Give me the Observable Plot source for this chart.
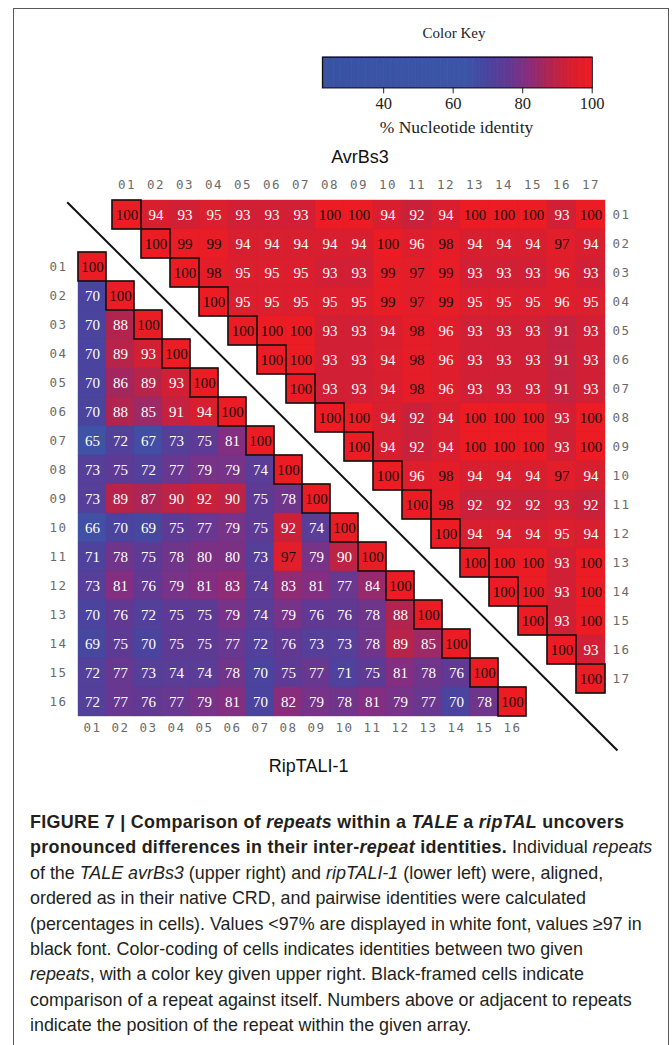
<!DOCTYPE html>
<html>
<head>
<meta charset="utf-8">
<script src="https://cdn.jsdelivr.net/npm/d3@7"></script>
<script src="https://cdn.jsdelivr.net/npm/@observablehq/plot@0.6"></script>
<style>
  html, body { margin: 0; padding: 0; background: #fff; }
  #fig { position: relative; width: 672px; height: 1045px; overflow: hidden; background: #fff; }
  #fig > svg, #fig > div.layer { position: absolute; left: 0; top: 0; }
  .frame { position: absolute; left: 13px; top: 8px; width: 656px; height: 1100px;
           border: 1.5px solid #5a5a5a; box-sizing: border-box; }
  .lbl { position: absolute; transform: translate(-50%, -50%); white-space: nowrap; }
  .serif { font-family: "Liberation Serif", "Times New Roman", serif; color: #222; }
  .sans { font-family: "Liberation Sans", Arial, sans-serif; color: #111; }
  #caption { position: absolute; left: 30px; top: 810px; font-family: "Liberation Sans", Arial, sans-serif;
             font-size: 17.9px; line-height: 25.4px; color: #231f20; }
  #caption div { white-space: nowrap; }
  #caption b { letter-spacing: 0.3px; }
  svg.matrix g[aria-label$="tick label"] text { letter-spacing: 1.5px; }
</style>
</head>
<body>
<div id="fig">
  <div class="frame"></div>
</div>
<script>
// ---------- data ----------
const avrBs3Labels = ["01","02","03","04","05","06","07","08","09","10","11","12","13","14","15","16","17"];
const ripTALLabels = ["01","02","03","04","05","06","07","08","09","10","11","12","13","14","15","16"];

// AvrBs3 (upper right): row i, values from column i to 17
const avrBs3Rows = [
  [100,94,93,95,93,93,93,100,100,94,92,94,100,100,100,93,100],
  [100,99,99,94,94,94,94,94,100,96,98,94,94,94,97,94],
  [100,98,95,95,95,93,93,99,97,99,93,93,93,96,93],
  [100,95,95,95,95,95,99,97,99,95,95,95,96,95],
  [100,100,100,93,93,94,98,96,93,93,93,91,93],
  [100,100,93,93,94,98,96,93,93,93,91,93],
  [100,93,93,94,98,96,93,93,93,91,93],
  [100,100,94,92,94,100,100,100,93,100],
  [100,94,92,94,100,100,100,93,100],
  [100,96,98,94,94,94,97,94],
  [100,98,92,92,92,93,92],
  [100,94,94,94,95,94],
  [100,100,100,93,100],
  [100,100,93,100],
  [100,93,100],
  [100,93],
  [100]
];

// RipTALI-1 (lower left): row i, values from column 01 to i
const ripTALRows = [
  [100],
  [70,100],
  [70,88,100],
  [70,89,93,100],
  [70,86,89,93,100],
  [70,88,85,91,94,100],
  [65,72,67,73,75,81,100],
  [73,75,72,77,79,79,74,100],
  [73,89,87,90,92,90,75,78,100],
  [66,70,69,75,77,79,75,92,74,100],
  [71,78,75,78,80,80,73,97,79,90,100],
  [73,81,76,79,81,83,74,83,81,77,84,100],
  [70,76,72,75,75,79,74,79,76,76,78,88,100],
  [69,75,70,75,75,77,72,76,73,73,78,89,85,100],
  [72,77,73,74,74,78,70,75,77,71,75,81,78,76,100],
  [72,77,76,77,79,81,70,82,79,78,81,79,77,70,78,100]
];

// colour key
const colorStops = [22.4, 64, 70, 76, 82, 88, 94, 100];
const colorRange = ["#3953a4", "#3c55a7", "#4a449e", "#613993", "#8a2c7c", "#b0254f", "#d71f30", "#ec1c24"];
const keyTicks = [40, 60, 80, 100];
const whiteBelow = 97;

// ---------- tables ----------
const upperCells = avrBs3Rows.flatMap((vals, i) =>
  vals.map((v, j) => ({row: avrBs3Labels[i], col: avrBs3Labels[i + j], value: v, self: j === 0})));
const lowerCells = ripTALRows.flatMap((vals, i) =>
  vals.map((v, j) => ({row: ripTALLabels[i], col: ripTALLabels[j], value: v, self: j === i})));

const colorScale = {type: "linear", domain: colorStops, range: colorRange, interpolate: "rgb"};
const serif = "Liberation Serif, Times New Roman, serif";
const mono = "DejaVu Sans Mono, monospace";
const fig = document.getElementById("fig");

function matrixMarks(cells) {
  return [
    Plot.cell(cells, {x: "col", y: "row", fill: "value", inset: 0, stroke: "value", strokeWidth: 0.4}),
    Plot.cell(cells, {filter: d => d.self, x: "col", y: "row", fill: "none", stroke: "#111", strokeWidth: 1.6, inset: 0}),
    Plot.text(cells, {filter: d => d.value < whiteBelow, x: "col", y: "row", text: "value", fill: "white",
                      fontFamily: serif, fontSize: 15}),
    Plot.text(cells, {filter: d => d.value >= whiteBelow, x: "col", y: "row", text: "value", fill: "#111",
                      fontFamily: serif, fontSize: 15})
  ];
}
const axisStyle = {background: "transparent", fontFamily: mono, fontSize: "12.5px", color: "#6a6a6a", overflow: "visible"};

// upper (AvrBs3)
const upper = Plot.plot({
  className: "matrix",
  width: 672, height: 760,
  marginLeft: 111.2, marginRight: 66.1, marginTop: 196, marginBottom: 63.3,
  x: {domain: avrBs3Labels, padding: 0, axis: "top", tickSize: 0, tickPadding: 8, label: null},
  y: {domain: avrBs3Labels, padding: 0, axis: "right", tickSize: 0, tickPadding: 6, label: null},
  color: colorScale,
  style: axisStyle,
  marks: matrixMarks(upperCells)
});
upper.classList.add("matrix");
fig.appendChild(upper);

// lower (RipTALI-1)
const lower = Plot.plot({
  className: "matrix",
  width: 672, height: 760,
  marginLeft: 75.1, marginRight: 142.8, marginTop: 247.3, marginBottom: 40.3,
  x: {domain: ripTALLabels, padding: 0, axis: "bottom", tickSize: 0, tickPadding: 2.5, label: null},
  y: {domain: ripTALLabels, padding: 0, axis: "left", tickSize: 0, tickPadding: 8, label: null},
  color: colorScale,
  style: axisStyle,
  marks: matrixMarks(lowerCells)
});
lower.classList.add("matrix");
fig.appendChild(lower);

// diagonal separator
const diagonal = [{x1: 66.7, y1: 201.7, x2: 617, y2: 750}];
const diag = Plot.plot({
  width: 672, height: 790, margin: 0,
  x: {type: "identity", axis: null}, y: {type: "identity", axis: null},
  style: {background: "transparent"},
  marks: [Plot.link(diagonal, {x1: "x1", y1: "y1", x2: "x2", y2: "y2", stroke: "#111", strokeWidth: 2})]
});
fig.appendChild(diag);

// colour key
const keySteps = d3.range(colorStops[0], 100, 0.4);
const key = Plot.plot({
  width: 672, height: 120,
  marginLeft: 322, marginRight: 80.3, marginTop: 56.7, marginBottom: 32.7,
  x: {domain: [colorStops[0], 100], ticks: keyTicks, tickSize: 6, tickPadding: 3, label: null},
  y: {domain: [0, 1], axis: null},
  color: colorScale,
  style: {background: "transparent", fontFamily: serif, fontSize: "16.5px", color: "#222"},
  marks: [
    Plot.rect(keySteps, {x1: d => d, x2: d => Math.min(100, d + 0.6), y1: 0, y2: 1, fill: d => d + 0.2}),
    Plot.frame({stroke: "#111", strokeWidth: 1.3})
  ]
});
fig.appendChild(key);

// text labels
function label(text, x, y, cls, size) {
  const d = document.createElement("div");
  d.className = "lbl " + cls;
  d.style.left = x + "px"; d.style.top = y + "px"; d.style.fontSize = size + "px";
  d.textContent = text;
  fig.appendChild(d);
}
label("Color Key", 454, 33, "serif", 15);
label("% Nucleotide identity", 456.5, 127, "serif", 17.5);
label("AvrBs3", 360, 157, "sans", 18);
label("RipTALI-1", 308.6, 766, "sans", 18);

const cap = document.createElement("div");
cap.id = "caption";
cap.innerHTML = [
  "<b>FIGURE 7 | Comparison of <i>repeats</i> within a <i>TALE</i> a <i>ripTAL</i> uncovers</b>",
  "<b>pronounced differences in their inter-<i>repeat</i> identities.</b> Individual <i>repeats</i>",
  "of the <i>TALE avrBs3</i> (upper right) and <i>ripTALI-1</i> (lower left) were, aligned,",
  "ordered as in their native CRD, and pairwise identities were calculated",
  "(percentages in cells). Values &lt;97% are displayed in white font, values \u226597 in",
  "black font. Color-coding of cells indicates identities between two given",
  "<i>repeats</i>, with a color key given upper right. Black-framed cells indicate",
  "comparison of a repeat against itself. Numbers above or adjacent to repeats",
  "indicate the position of the repeat within the given array."
].map(s => "<div>" + s + "</div>").join("");
fig.appendChild(cap);
</script>
</body>
</html>
